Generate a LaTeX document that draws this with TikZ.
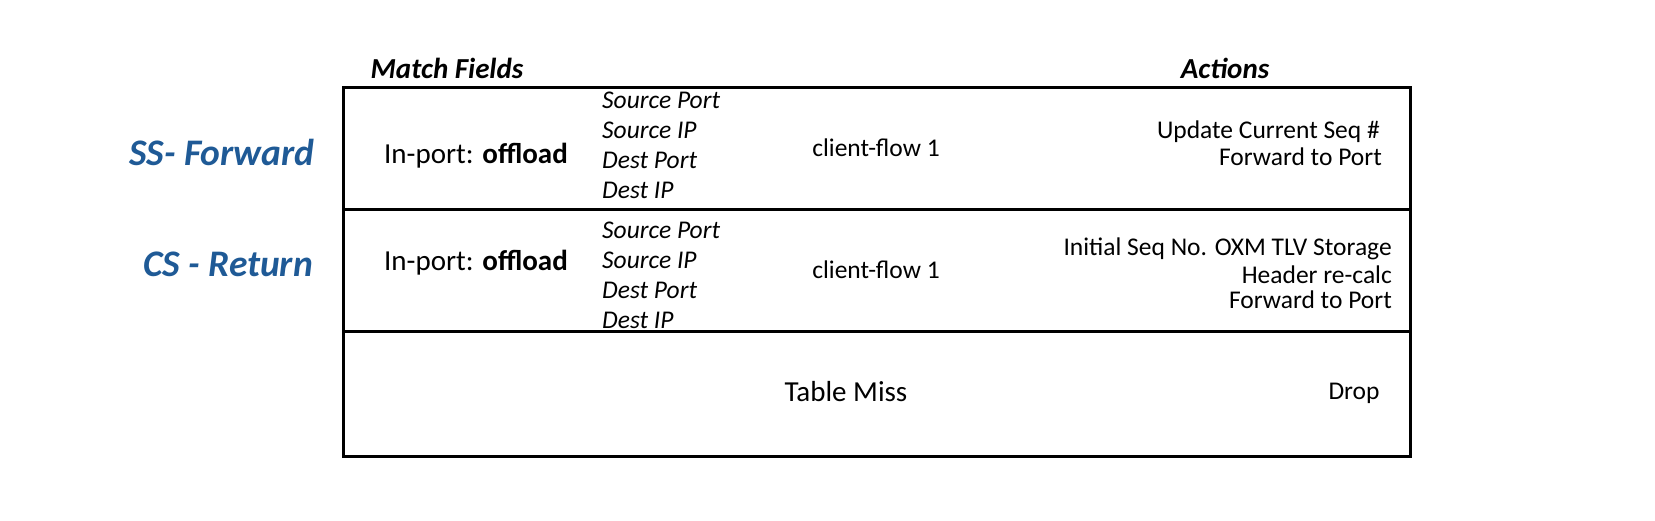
\documentclass[tikz,border=0pt]{standalone}
\usepackage{fontspec}
\setmainfont{Carlito}
\definecolor{lblue}{HTML}{1F5A96}
\begin{document}
\begin{tikzpicture}[x=1pt,y=-1pt,
  hdr/.style={font=\fontsize{29}{34}\selectfont\bfseries\itshape},
  side/.style={font=\fontsize{37.5}{42}\selectfont\bfseries\itshape,text=lblue},
  fld/.style={font=\fontsize{25.5}{30}\selectfont\itshape,anchor=west,inner sep=0},
  txt/.style={font=\fontsize{25.5}{30}\selectfont,inner sep=0},
  big/.style={font=\fontsize{29}{34}\selectfont,inner sep=0},
  act/.style={font=\fontsize{25.5}{30}\selectfont,anchor=east,inner sep=0}]
\useasboundingbox (0,0) rectangle (1655,521);
\draw[line width=3pt] (343,88) rectangle (1410,456);
\draw[line width=3pt] (343,210) -- (1410,210);
\draw[line width=3pt] (343,332) -- (1410,332);
\node[hdr] (mf) at (447,68) {Match Fields};
\node[hdr] (ac) at (1225,68) {Actions};
\node[side] (ss) at (222,152) {SS- Forward};
\node[side] (cs) at (228,264) {CS - Return};
\node[big] (ip1) at (476,156) {In-port: \textbf{offload}};
\node[big] (ip2) at (476,263) {In-port: \textbf{offload}};
\node[fld] (a1) at (602,100) {Source Port};
\node[fld] (a2) at (602,130) {Source IP};
\node[fld] (a3) at (602,160) {Dest Port};
\node[fld] (a4) at (602,190) {Dest IP};
\node[fld] (b1) at (602,230) {Source Port};
\node[fld] (b2) at (602,260) {Source IP};
\node[fld] (b3) at (602,290) {Dest Port};
\node[fld] (b4) at (602,320) {Dest IP};
\node[txt] (c1) at (876,148) {client-flow 1};
\node[txt] (c2) at (876,270) {client-flow 1};
\node[act] (u1) at (1380,132) {Update Current Seq \#};
\node[act] (u2) at (1382,157) {Forward to Port};
\node[act] (v1) at (1392,249) {Initial Seq No. OXM TLV Storage};
\node[act] (v2) at (1392,275) {Header re-calc};
\node[act] (v3) at (1392,300) {Forward to Port};
\node[big] (tm) at (846,392) {Table Miss};
\node[txt] (dr) at (1354,393) {Drop};
\end{tikzpicture}
\end{document}
